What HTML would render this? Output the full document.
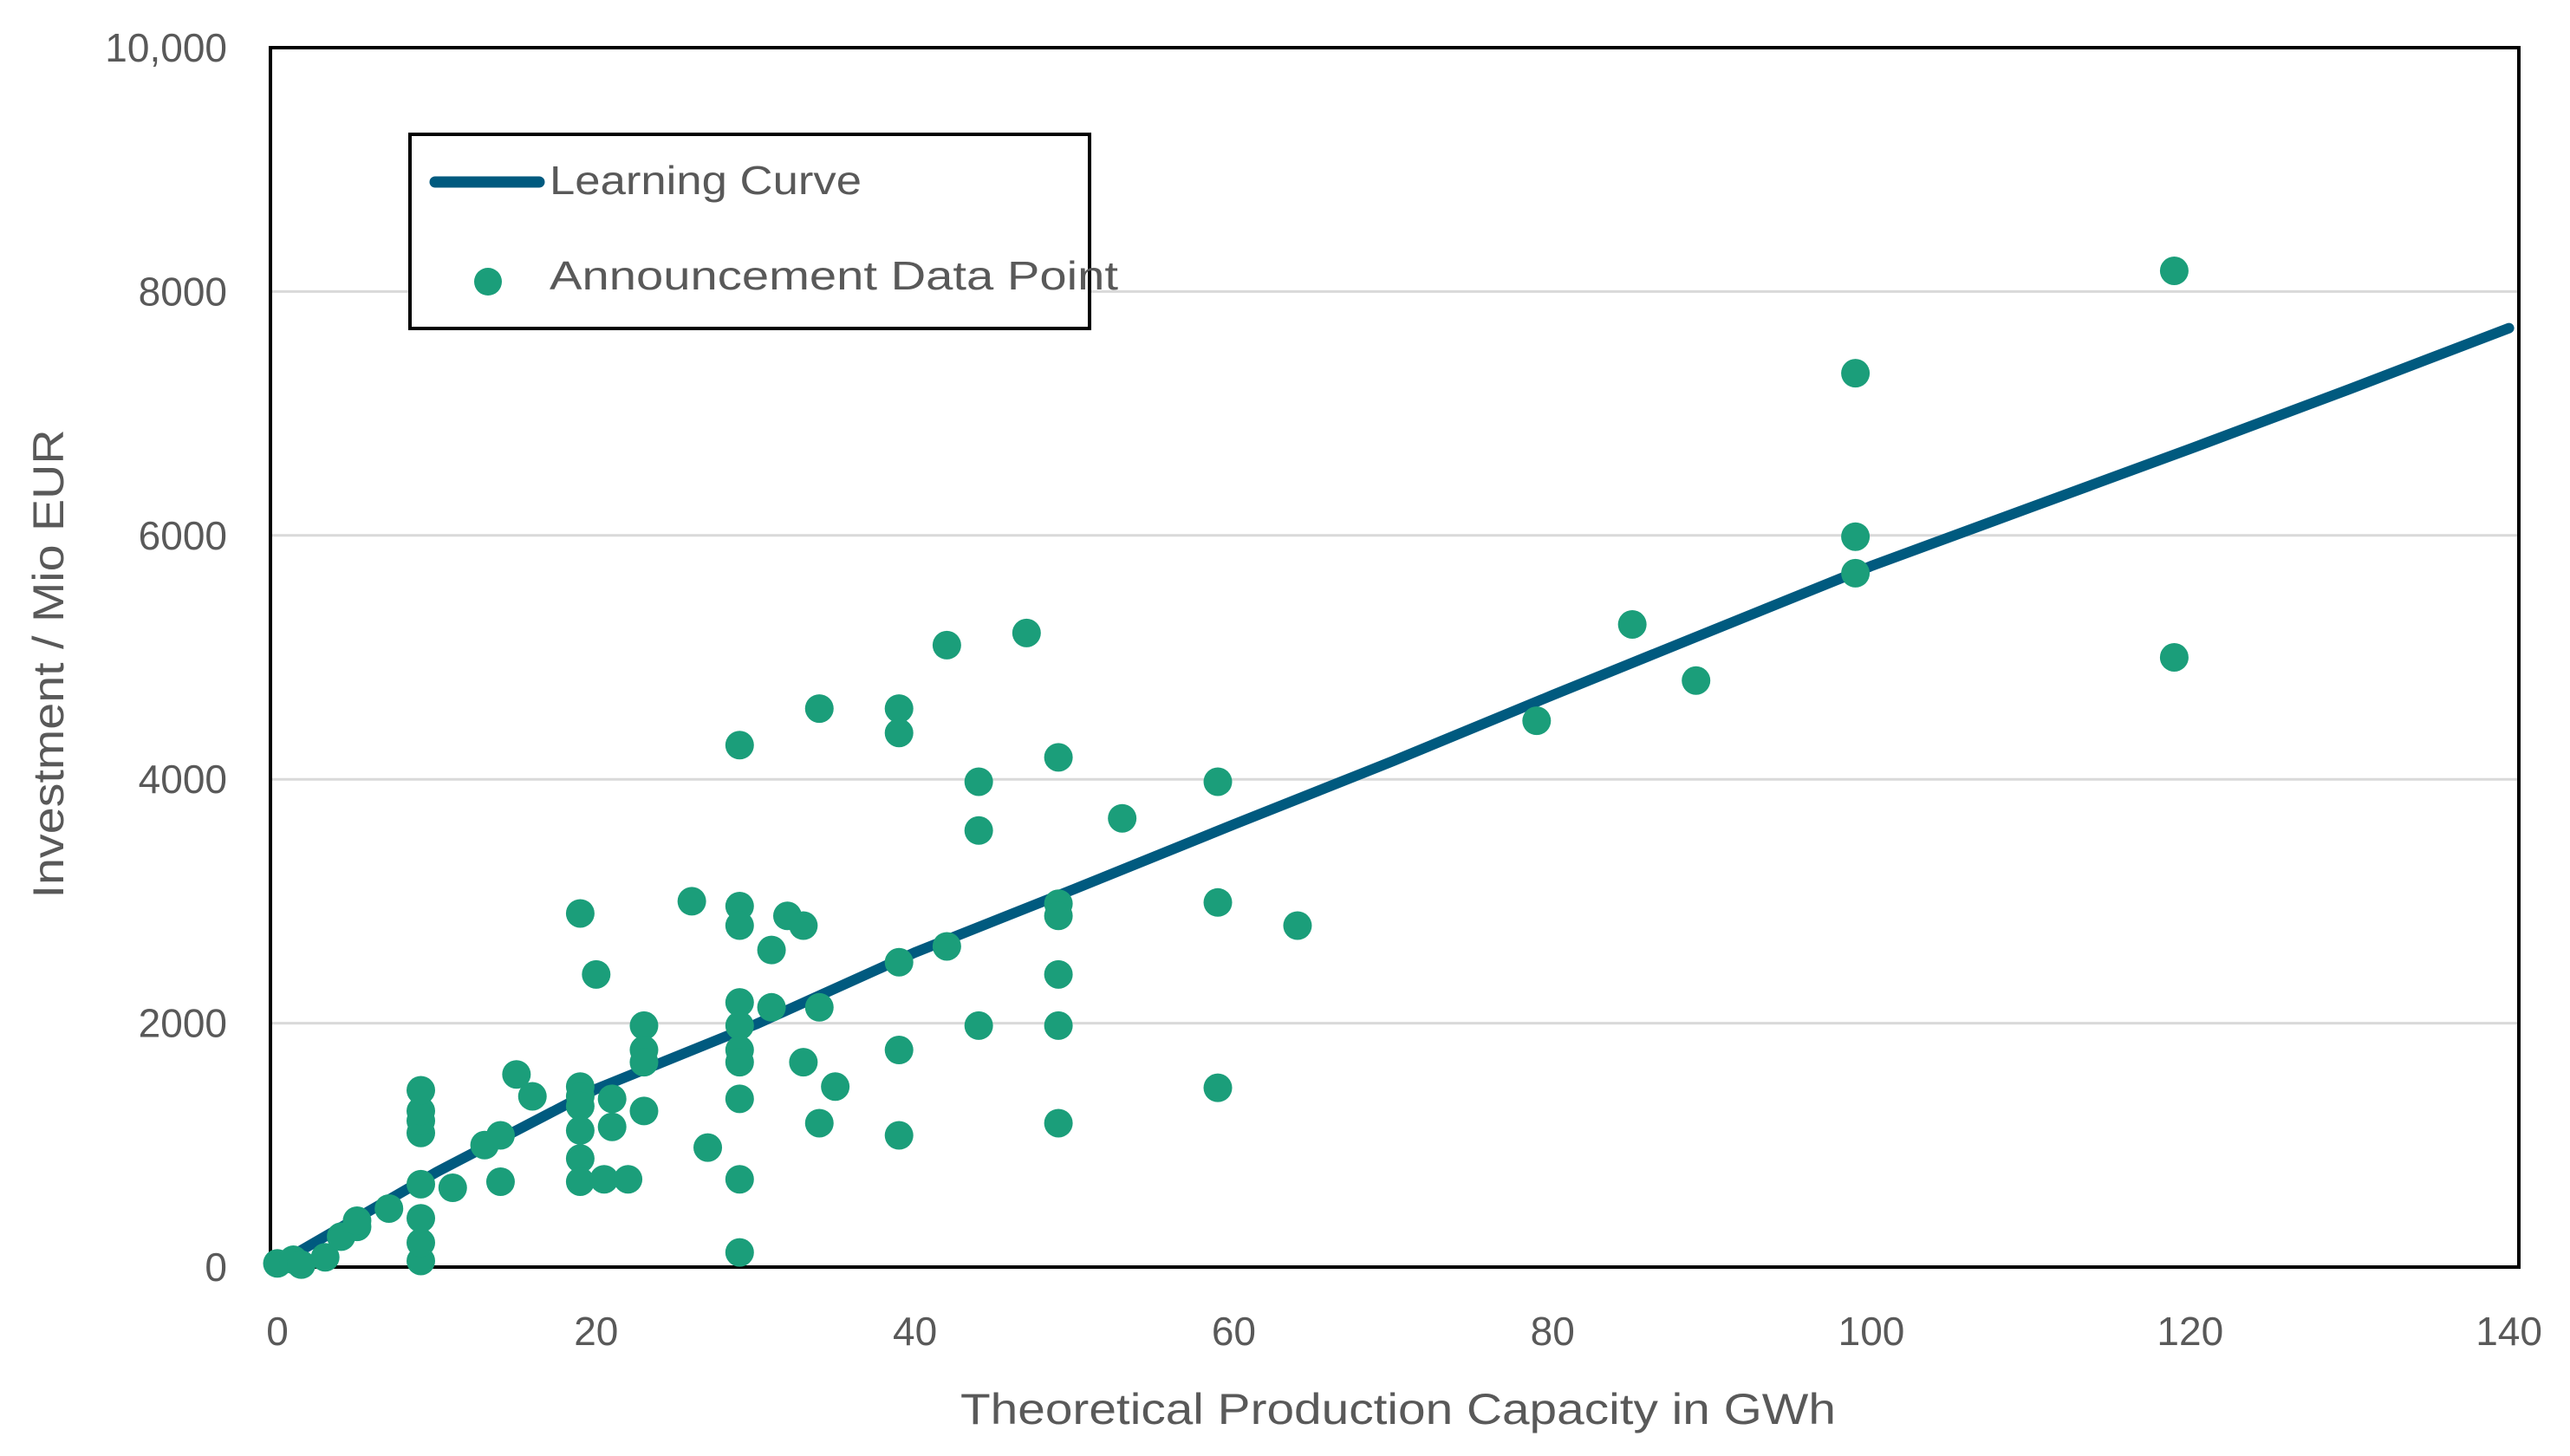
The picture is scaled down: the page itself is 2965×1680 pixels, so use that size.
<!DOCTYPE html>
<html><head><meta charset="utf-8"><style>
html,body{margin:0;padding:0;background:#fff;}
svg{display:block;font-family:"Liberation Sans",sans-serif;}
</style></head><body>
<svg id="chart" width="2965" height="1680" viewBox="0 0 2965 1680" xmlns="http://www.w3.org/2000/svg">
<g id="grid"></g><g id="axes"></g><g id="curve"></g><g id="points"></g><g id="legend"></g>
</svg>
<script>
const xTicks=[0,20,40,60,80,100,120,140];
const yTicks=[0,2000,4000,6000,8000,10000];
const yTickLabels=["0","2000","4000","6000","8000","10,000"];
const curveX=[1,10,20,30,40,50,60,70,80,90,100,110,120,130,140];
const curveY=[100,780,1460,1990,2580,3100,3630,4150,4690,5220,5750,6230,6710,7200,7700];
const ptX=[0,1,1.5,3,4,5,5,7,9,9,9,9,9,9,9,9,11,13,14,14,15,16,19,19,19,19,19,19,19,20,20.5,21,21,22,23,23,23,23,26,27,29,29,29,29,29,29,29,29,29,29,31,31,32,33,33,34,34,34,35,39,39,39,39,39,42,42,44,44,44,47,49,49,49,49,49,49,53,59,59,59,64,79,85,89,99,99,99,119,119];
const ptY=[30,60,20,80,250,330,380,480,50,200,400,680,1100,1200,1280,1450,650,1000,1080,700,1580,1400,2900,1480,1400,1320,1120,890,700,2400,720,1380,1150,720,1980,1780,1680,1280,3000,980,4280,2960,2800,2170,1980,1780,1680,1380,720,120,2600,2130,2880,2800,1680,4580,2130,1180,1480,4580,4380,2500,1780,1080,5100,2630,3980,3580,1980,5200,4180,2980,2880,2400,1980,1180,3680,3980,2990,1470,2800,4480,5270,4810,7330,5990,5690,8170,5000];
const NS="http://www.w3.org/2000/svg";
const L=312,R=2906,T=55,B=1462;
function xs(v){return 320+v*18.39;}
function ys(v){return B-(v/10000)*(B-T);}
function mk(tag,attrs,parent,text){const e=document.createElementNS(NS,tag);for(const k in attrs)e.setAttribute(k,attrs[k]);if(text!==undefined)e.textContent=text;parent.appendChild(e);return e;}
const grid=document.getElementById('grid'),axes=document.getElementById('axes');
yTicks.forEach((t,i)=>{
  if(t>0&&t<10000){const g=mk('line',{x1:L,x2:R,y1:ys(t),y2:ys(t),stroke:'#d9d9d9','stroke-width':3},grid);
  
  }
  const lb=mk('text',{x:262,y:ys(t)+16,'text-anchor':'end','font-size':46,fill:'#595959'},axes,yTickLabels[i]);
  
  
});
xTicks.forEach(t=>{
  const lb=mk('text',{x:xs(t),y:1552,'text-anchor':'middle','font-size':46,fill:'#595959'},axes,String(t));
  
  
});
const frame=mk('rect',{x:L,y:T,width:R-L,height:B-T,fill:'none',stroke:'#000','stroke-width':4},axes);


const xt=mk('text',{x:1613,y:1643,'text-anchor':'middle','font-size':50,fill:'#595959',textLength:1010,lengthAdjust:'spacingAndGlyphs'},axes,'Theoretical Production Capacity in GWh');


const yt=mk('text',{x:0,y:0,'text-anchor':'middle','font-size':50,fill:'#595959',transform:'translate(73,766) rotate(-90)',textLength:541,lengthAdjust:'spacingAndGlyphs'},axes,'Investment / Mio EUR');


const cg=document.getElementById('curve');
const d=curveX.map((x,i)=>(i?'L':'M')+xs(x).toFixed(1)+','+ys(curveY[i]).toFixed(1)).join(' ');
const cp=mk('path',{d:d,fill:'none',stroke:'#005a7f','stroke-width':12,'stroke-linecap':'round','stroke-linejoin':'round'},cg);


const pg=document.getElementById('points');
ptX.forEach((x,i)=>{
  const c=mk('circle',{cx:xs(x),cy:ys(ptY[i]),r:16.5,fill:'#1b9e7a'},pg);
  
  
});
const lg=document.getElementById('legend');
const lb=mk('rect',{x:473,y:155,width:784,height:224,fill:'#fff',stroke:'#000','stroke-width':4},lg);


const ll=mk('line',{x1:502,x2:622,y1:210,y2:210,stroke:'#005a7f','stroke-width':13,'stroke-linecap':'round'},lg);


const lt1=mk('text',{x:634,y:224,'font-size':46,fill:'#595959',textLength:360,lengthAdjust:'spacingAndGlyphs'},lg,'Learning Curve');


const ld=mk('circle',{cx:563,cy:325,r:16,fill:'#1b9e7a'},lg);


const lt2=mk('text',{x:634,y:334,'font-size':46,fill:'#595959',textLength:656,lengthAdjust:'spacingAndGlyphs'},lg,'Announcement Data Point');


</script>
</body></html>
